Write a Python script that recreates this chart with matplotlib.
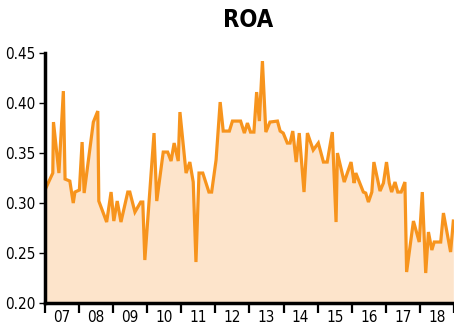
import matplotlib
matplotlib.use("Agg")
import matplotlib.pyplot as plt
from matplotlib.ticker import MultipleLocator, FixedLocator, FixedFormatter

plt.rcParams["font.family"] = ["DejaVu Sans"]
plt.rcParams["font.stretch"] = "condensed"

# time in fractional years, ROA value
t = [2007.00, 2007.23, 2007.25, 2007.41, 2007.54, 2007.59, 2007.73, 2007.83, 2007.88,
     2008.01, 2008.09, 2008.15, 2008.42, 2008.55, 2008.58, 2008.81, 2008.94,
     2009.02, 2009.12, 2009.23, 2009.43, 2009.49, 2009.64, 2009.81, 2009.87, 2009.93,
     2010.20, 2010.28, 2010.47, 2010.60, 2010.70, 2010.79, 2010.91, 2010.96,
     2011.14, 2011.25, 2011.35, 2011.43, 2011.52, 2011.63, 2011.81, 2011.89,
     2012.02, 2012.14, 2012.23, 2012.41, 2012.50, 2012.74, 2012.85, 2012.94,
     2013.03, 2013.13, 2013.21, 2013.29, 2013.38, 2013.48, 2013.60, 2013.82, 2013.90, 2013.99,
     2014.11, 2014.19, 2014.27, 2014.37, 2014.46, 2014.60, 2014.70, 2014.87,
     2015.02, 2015.17, 2015.28, 2015.43, 2015.54, 2015.58, 2015.78, 2015.98,
     2016.07, 2016.12, 2016.34, 2016.41, 2016.49, 2016.59, 2016.65, 2016.83, 2016.93,
     2017.02, 2017.10, 2017.17, 2017.27, 2017.35, 2017.45, 2017.56, 2017.61, 2017.81, 2017.98,
     2018.07, 2018.17, 2018.25, 2018.35, 2018.42, 2018.61, 2018.69, 2018.90, 2018.98]
roa = [0.313, 0.330, 0.381, 0.330, 0.412, 0.324, 0.322, 0.300, 0.311,
       0.313, 0.361, 0.310, 0.381, 0.392, 0.302, 0.281, 0.311,
       0.282, 0.302, 0.281, 0.311, 0.311, 0.291, 0.301, 0.301, 0.243,
       0.370, 0.302, 0.351, 0.351, 0.342, 0.360, 0.342, 0.391,
       0.330, 0.341, 0.321, 0.241, 0.330, 0.330, 0.311, 0.311,
       0.343, 0.401, 0.372, 0.372, 0.382, 0.382, 0.370, 0.380,
       0.371, 0.371, 0.411, 0.382, 0.442, 0.371, 0.381, 0.382, 0.372, 0.370,
       0.360, 0.360, 0.372, 0.341, 0.370, 0.311, 0.370, 0.353,
       0.360, 0.341, 0.341, 0.371, 0.281, 0.350, 0.321, 0.341,
       0.320, 0.330, 0.311, 0.310, 0.301, 0.311, 0.341, 0.312, 0.320,
       0.341, 0.320, 0.311, 0.321, 0.311, 0.311, 0.321, 0.231, 0.282, 0.261,
       0.311, 0.230, 0.271, 0.253, 0.261, 0.261, 0.290, 0.251, 0.282]

years = list(range(2007, 2020))
year_labels = ["07", "08", "09", "10", "11", "12", "13", "14", "15", "16", "17", "18"]

line_color = "#F7941D"
fill_color = "#FDE4CB"

fig = plt.figure(figsize=(4.54, 3.35), dpi=100)
ax = fig.add_axes([0.099, 0.0955, 0.901, 0.746])

ax.fill_between(t, roa, 0.20, color=fill_color, lw=0)
ax.plot(t, roa, color=line_color, lw=2.3, solid_joinstyle="miter")

ax.set_xlim(2007, 2019)
ax.set_ylim(0.20, 0.45)
ax.yaxis.set_major_locator(MultipleLocator(0.05))
ax.set_yticklabels([f"{v:.2f}" for v in ax.get_yticks()])

# year boundaries as ticks, labels centred mid-year
ax.xaxis.set_major_locator(FixedLocator(years))
ax.xaxis.set_major_formatter(FixedFormatter([""] * len(years)))
ax.xaxis.set_minor_locator(FixedLocator([y + 0.5 for y in years[:-1]]))
ax.xaxis.set_minor_formatter(FixedFormatter(year_labels))
ax.tick_params(axis="x", which="major", length=7, width=1.6, color="black")
ax.tick_params(axis="x", which="minor", length=0, pad=5, labelsize=11)
ax.tick_params(axis="y", length=4, width=1, labelsize=11, pad=3)

for s in ["top", "right"]:
    ax.spines[s].set_visible(False)
for s in ["left", "bottom"]:
    ax.spines[s].set_linewidth(2.5)

fig.suptitle("ROA", x=0.546, y=0.975, fontsize=17, fontweight="bold")

fig.savefig("out.png", dpi=100)
